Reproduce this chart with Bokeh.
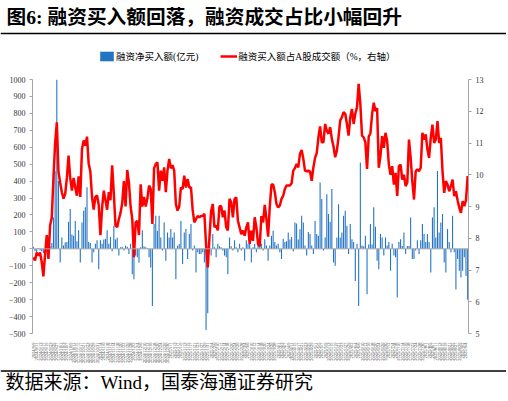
import math
import numpy as np
import pandas as pd
from bokeh.plotting import figure
from bokeh.models import (Range1d, LinearAxis, FixedTicker, Span, Legend,
                          LegendItem, Label)
from bokeh.layouts import column
from bokeh.embed import file_html
from bokeh.resources import INLINE

# ---------------- data ----------------
# 融资买入额占A股成交额 (%, right axis)
ratio = [
    7.40, 7.30, 7.55, 7.45, 7.55, 7.25, 6.80, 7.50, 8.10, 7.35,
    8.40, 8.65, 9.90, 11.00, 11.65, 10.10, 9.75, 9.45, 9.25, 9.40,
    9.90, 10.60, 9.90, 9.50, 9.90, 9.60, 9.34, 9.95, 9.30, 10.80,
    11.08, 10.92, 11.20, 10.35, 10.10, 9.30, 8.90, 9.30, 9.35, 9.05,
    8.10, 8.95, 9.50, 9.20, 8.90, 9.45, 9.20, 10.30, 9.40, 8.40,
    8.35, 8.60, 8.80, 9.10, 9.80, 9.00, 10.15, 9.75, 9.00, 8.60,
    7.40, 8.50, 8.55, 8.10, 9.70, 9.00, 9.30, 9.00, 9.25, 9.66,
    9.55, 8.45, 10.20, 10.34, 10.39, 9.50, 10.13, 9.81, 10.23, 9.45,
    10.13, 10.50, 10.20, 10.30, 10.13, 9.08, 8.87, 9.00, 9.60, 9.55,
    9.97, 9.60, 9.87, 9.60, 9.60, 8.90, 8.50, 8.60, 8.70, 8.66,
    8.70, 8.70, 8.77, 7.80, 7.08, 8.00, 8.85, 9.08, 8.35, 8.40,
    8.25, 9.00, 9.02, 8.66, 8.87, 8.35, 8.25, 9.24, 9.13, 8.66,
    9.24, 9.29, 8.55, 8.34, 8.13, 8.24, 8.08, 8.34, 8.50, 7.82,
    8.24, 7.92, 8.66, 8.34, 7.82, 7.75, 8.70, 8.50, 9.05, 8.60,
    8.05, 9.00, 9.69, 9.69, 9.45, 9.08, 8.97, 9.03, 9.24, 9.34,
    9.55, 9.66, 9.66, 9.66, 9.73, 10.13, 10.21, 10.34, 10.23, 10.66,
    10.78, 10.50, 10.13, 10.11, 10.13, 10.10, 9.81, 10.23, 10.53, 10.68,
    11.18, 11.52, 11.02, 11.02, 11.60, 11.39, 11.29, 11.50, 11.13, 10.89,
    10.55, 10.76, 11.18, 11.71, 11.81, 11.97, 11.92, 11.60, 11.23, 11.81,
    12.07, 11.60, 11.92, 12.13, 12.86, 12.23, 11.23, 11.18, 11.02, 10.18,
    11.20, 11.30, 11.90, 12.27, 12.00, 12.10, 10.22, 10.59, 11.22, 10.85,
    11.32, 11.06, 10.32, 10.00, 10.27, 9.69, 10.06, 9.33, 10.27, 10.32,
    9.85, 10.00, 9.64, 9.75, 11.11, 10.53, 9.80, 9.22, 10.11, 10.17,
    10.11, 10.22, 11.32, 11.11, 11.27, 10.80, 10.53, 11.16, 11.58, 11.00,
    11.11, 11.69, 11.00, 11.16, 10.11, 9.43, 9.80, 9.69, 9.48, 9.64,
    9.85, 9.33, 9.48, 9.20, 8.96, 8.80, 9.17, 9.01, 9.20, 9.96,
]

# 融资净买入额 (亿元, left axis)
net_buy = [
    12, -15, -20, 5, -10, -15, -25, 5, -10, 10,
    15, 35, 185, 460, 1000, 400, -80, 67, 20, 37,
    40, 160, 235, 85, 77, 165, 45, 110, -80, 155,
    225, 245, 363, 40, 35, -80, -20, 30, 50, -120,
    50, 30, 55, 60, 110, 30, 70, -15, 136, 55,
    65, -40, 10, 12, -10, 18, 12, -30, 30, -150,
    -180, -40, -50, -80, 10, 110, 15, 10, 5, -50,
    -110, -337, 146, 195, 107, 195, 67, -10, 156, -70,
    97, 67, 117, 67, 97, -180, 18, 28, 165, -90,
    97, 117, -60, 87, 146, -10, 20, -140, -20, -30,
    -30, -20, -80, -480, -380, -10, -40, 87, 10, -50,
    30, 15, 10, -10, -40, -50, -150, 67, 15, -10,
    50, 10, -20, 30, -10, 10, -70, 50, 30, 30,
    -80, 10, 30, -20, 30, 20, 30, -10, 57, 20,
    -70, 20, 77, 107, 40, 20, 30, -20, -60, 60,
    40, 45, 97, 55, 70, -15, 156, 150, 55, 115,
    195, 156, 20, -40, 100, 87, 20, -30, 165, 87,
    77, 392, 294, -10, 67, 323, 205, 160, 353, -80,
    -100, 67, 264, 67, 97, 195, 225, 136, -30, 146,
    57, 40, -190, 30, -337, 510, 20, 15, 77, -268,
    25, 146, 25, 245, 130, -70, -120, 87, 67, -40,
    67, 20, 40, -130, 30, -40, -50, -288, 40, 57,
    17, 97, -30, 17, 17, 185, -60, -60, -10, 50,
    -30, 50, 146, 87, 40, 87, 40, -140, 185, 245,
    67, 460, 97, 156, 205, -80, -140, 117, 40, -20,
    195, -20, -240, -60, -130, -170, -130, -50, -160, -300,
]

N = len(ratio)
idx = list(range(N))
dates = [f"{d.year}/{d.month}/{d.day}" for d in pd.bdate_range("2024-09-09", periods=N)]

left_ticks = [-500, -400, -300, -200, -100, 0, 100, 200, 300, 400, 500, 600, 700, 800, 900, 1000]
right_ticks = [5, 6, 7, 8, 9, 10, 11, 12, 13]

title_text = "图6:  融资买入额回落，融资成交占比小幅回升"
source_text = "数据来源：Wind，国泰海通证券研究"
bar_label = "融资净买入额(亿元)"
line_label = "融资买入额占A股成交额（%，右轴）"

SERIF = "'Liberation Serif', 'Noto Sans CJK SC'"
BAR_COLOR = "#2474C4"
LINE_COLOR = "#FF0000"
AXIS_GRAY = "#A6A6A6"

W = 506


def strip(height):
    f = figure(width=W, height=height, x_range=Range1d(0, W),
               y_range=Range1d(height, 0), output_backend="svg",
               toolbar_location=None, min_border=0,
               x_axis_location=None, y_axis_location=None)
    f.frame_align = False
    f.grid.visible = False
    f.outline_line_color = None
    return f


# ---------------- title strip (with legend) ----------------
top = strip(64)
top.add_layout(Label(x=6, y=16.5, text=title_text, text_baseline="middle",
                     text_font=SERIF, text_font_size="19.7px",
                     text_font_style="bold", text_color="#000000"))
top.add_layout(Span(location=33, dimension="width", line_color="#000000",
                    line_width=1.5))
# legend keys share the main chart's styling; their single point is empty (NaN)
nan_key = np.array([np.nan])
key_bar = top.vbar(x=nan_key, top=nan_key, width=0.6, fill_color=BAR_COLOR,
                   line_color=None)
key_line = top.line(x=nan_key, y=nan_key, line_color=LINE_COLOR, line_width=2.5)
legend = Legend(items=[LegendItem(label=bar_label, renderers=[key_bar]),
                       LegendItem(label=line_label, renderers=[key_line])],
                orientation="horizontal", location=(98, 1),
                border_line_color=None, background_fill_alpha=0,
                label_text_font=SERIF, label_text_font_size="9.5px",
                label_text_color="#000000",
                glyph_width=17, glyph_height=12, label_height=10,
                padding=0, margin=0, spacing=22, label_standoff=1)
top.add_layout(legend)

# ---------------- main chart ----------------
p = figure(width=W, height=302, x_range=Range1d(-0.5, N - 0.5),
           y_range=Range1d(-500, 1000), output_backend="svg",
           toolbar_location=None, min_border_left=32, min_border_right=38,
           min_border_top=15, min_border_bottom=33)
p.frame_align = False
p.extra_y_ranges = {"ratio": Range1d(5, 13)}
p.grid.visible = False
p.outline_line_color = None

p.vbar(x=idx, top=net_buy, width=0.65, fill_color=BAR_COLOR, line_color=None)
p.add_layout(Span(location=0, dimension="width", line_color=AXIS_GRAY,
                  line_width=1))
p.line(idx, ratio, y_range_name="ratio", line_color=LINE_COLOR, line_width=2.5)

yl = p.yaxis[0]
yl.ticker = FixedTicker(ticks=left_ticks)
yr = LinearAxis(y_range_name="ratio", ticker=FixedTicker(ticks=right_ticks))
p.add_layout(yr, "right")
for ax in (yl, yr):
    ax.axis_line_color = AXIS_GRAY
    ax.major_tick_line_color = AXIS_GRAY
    ax.major_tick_out = 3
    ax.major_tick_in = 0
    ax.minor_tick_line_color = None
    ax.major_label_text_font = SERIF
    ax.major_label_text_font_size = "8px"
    ax.major_label_text_color = "#333333"
    ax.major_label_standoff = 4

xa = p.xaxis[0]
xa.ticker = FixedTicker(ticks=idx[::2])
xa.major_label_overrides = {i: dates[i] for i in idx[::2]}
xa.major_label_orientation = math.pi / 2
xa.major_label_text_font = SERIF
xa.major_label_text_font_size = "4.5px"
xa.major_label_text_color = "#333333"
xa.major_label_standoff = 3
xa.axis_line_color = None
xa.major_tick_line_color = None
xa.minor_tick_line_color = None

# ---------------- source strip ----------------
bot = strip(33)
bot.add_layout(Span(location=4.5, dimension="width", line_color="#000000",
                    line_width=1.5))
bot.add_layout(Label(x=5, y=15.5, text=source_text, text_baseline="middle",
                     text_font=SERIF, text_font_size="19px",
                     text_color="#000000"))

layout = column(top, p, bot, spacing=0)
open("out.html", "w").write(file_html(layout, INLINE))
